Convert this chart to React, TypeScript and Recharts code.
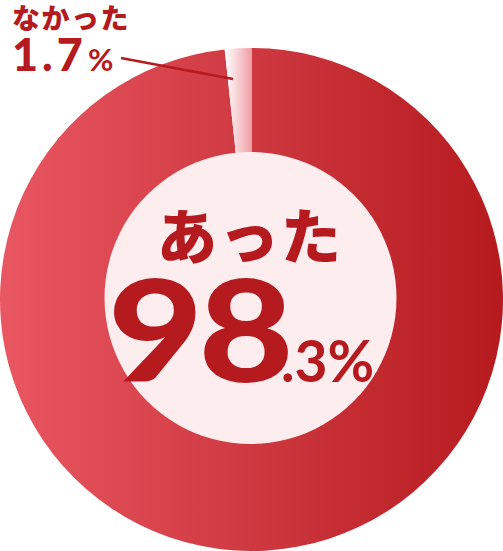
import React from 'react';
import { PieChart, Pie, Cell } from 'recharts';

const categories = ['あった', 'なかった'];
const values = [98.3, 1.7];
const hole = [{ name: 'hole', value: 1 }];

const data = categories.map((name, i) => ({ name, value: values[i] }));

const RED = '#b51a1e';
const W = 503;
const H = 551;

const App: React.FC = () => {
  const [bigInt, bigDec] = values[0].toFixed(1).split('.');
  const smallText = values[1].toFixed(1);
  return (
    <div style={{ position: 'relative', width: W, height: H }}>
      <style>{'body{margin:0}'}</style>
      <PieChart width={W} height={H} margin={{ top: 0, right: 0, bottom: 0, left: 0 }}>
        <defs>
          <linearGradient id="gradBig" x1="0" y1="0" x2="1" y2="0">
            <stop offset="0%" stopColor="#e95762" />
            <stop offset="100%" stopColor="#b51a1e" />
          </linearGradient>
          <linearGradient id="gradSmall" x1="0" y1="0" x2="1" y2="0">
            <stop offset="0%" stopColor="#ffffff" />
            <stop offset="100%" stopColor="#ef9ea6" />
          </linearGradient>
        </defs>
        <Pie
          data={data}
          dataKey="value"
          cx={251.5}
          cy={299.5}
          outerRadius={251.5}
          innerRadius={0}
          startAngle={90}
          endAngle={-270}
          stroke="none"
          isAnimationActive={false}
        >
          <Cell fill="url(#gradBig)" />
          <Cell fill="url(#gradSmall)" />
        </Pie>
        <Pie
          data={hole}
          dataKey="value"
          cx={250.5}
          cy={298}
          outerRadius={146}
          stroke="none"
          fill="#fdedef"
          isAnimationActive={false}
        />
      </PieChart>
      <svg
        width={W}
        height={H}
        style={{ position: 'absolute', left: 0, top: 0, pointerEvents: 'none' }}
      >
        <line x1={121} y1={58} x2={233} y2={79} stroke={RED} strokeWidth={2.5} />
        <text
          x={12}
          y={29}
          fill={RED}
          fontFamily="'Noto Sans CJK JP'"
          fontWeight={900}
          fontSize={28}
          letterSpacing={1.5}
        >
          {categories[1]}
        </text>
        <text x={12} y={71} fill={RED} fontFamily="Lato" fontWeight={900} letterSpacing={4}>
          <tspan fontSize={45}>{smallText}</tspan>
          <tspan fontSize={31} dx={1} fontWeight={700}>%</tspan>
        </text>
        <text
          x={250}
          y={259}
          fill={RED}
          textAnchor="middle"
          fontFamily="'Noto Sans CJK JP'"
          fontWeight={900}
          fontSize={60}
          letterSpacing={2}
        >
          {categories[0]}
        </text>
        <text
          transform="translate(108,382) scale(1.155,1)"
          fill={RED}
          fontFamily="Lato"
          fontWeight={900}
          fontSize={142}
          letterSpacing={-4}
        >
          {bigInt}
        </text>
        <text x={281} y={382} fill={RED} fontFamily="Lato" fontWeight={700} fontSize={57}>
          .{bigDec}%
        </text>
      </svg>
    </div>
  );
};

export default App;
